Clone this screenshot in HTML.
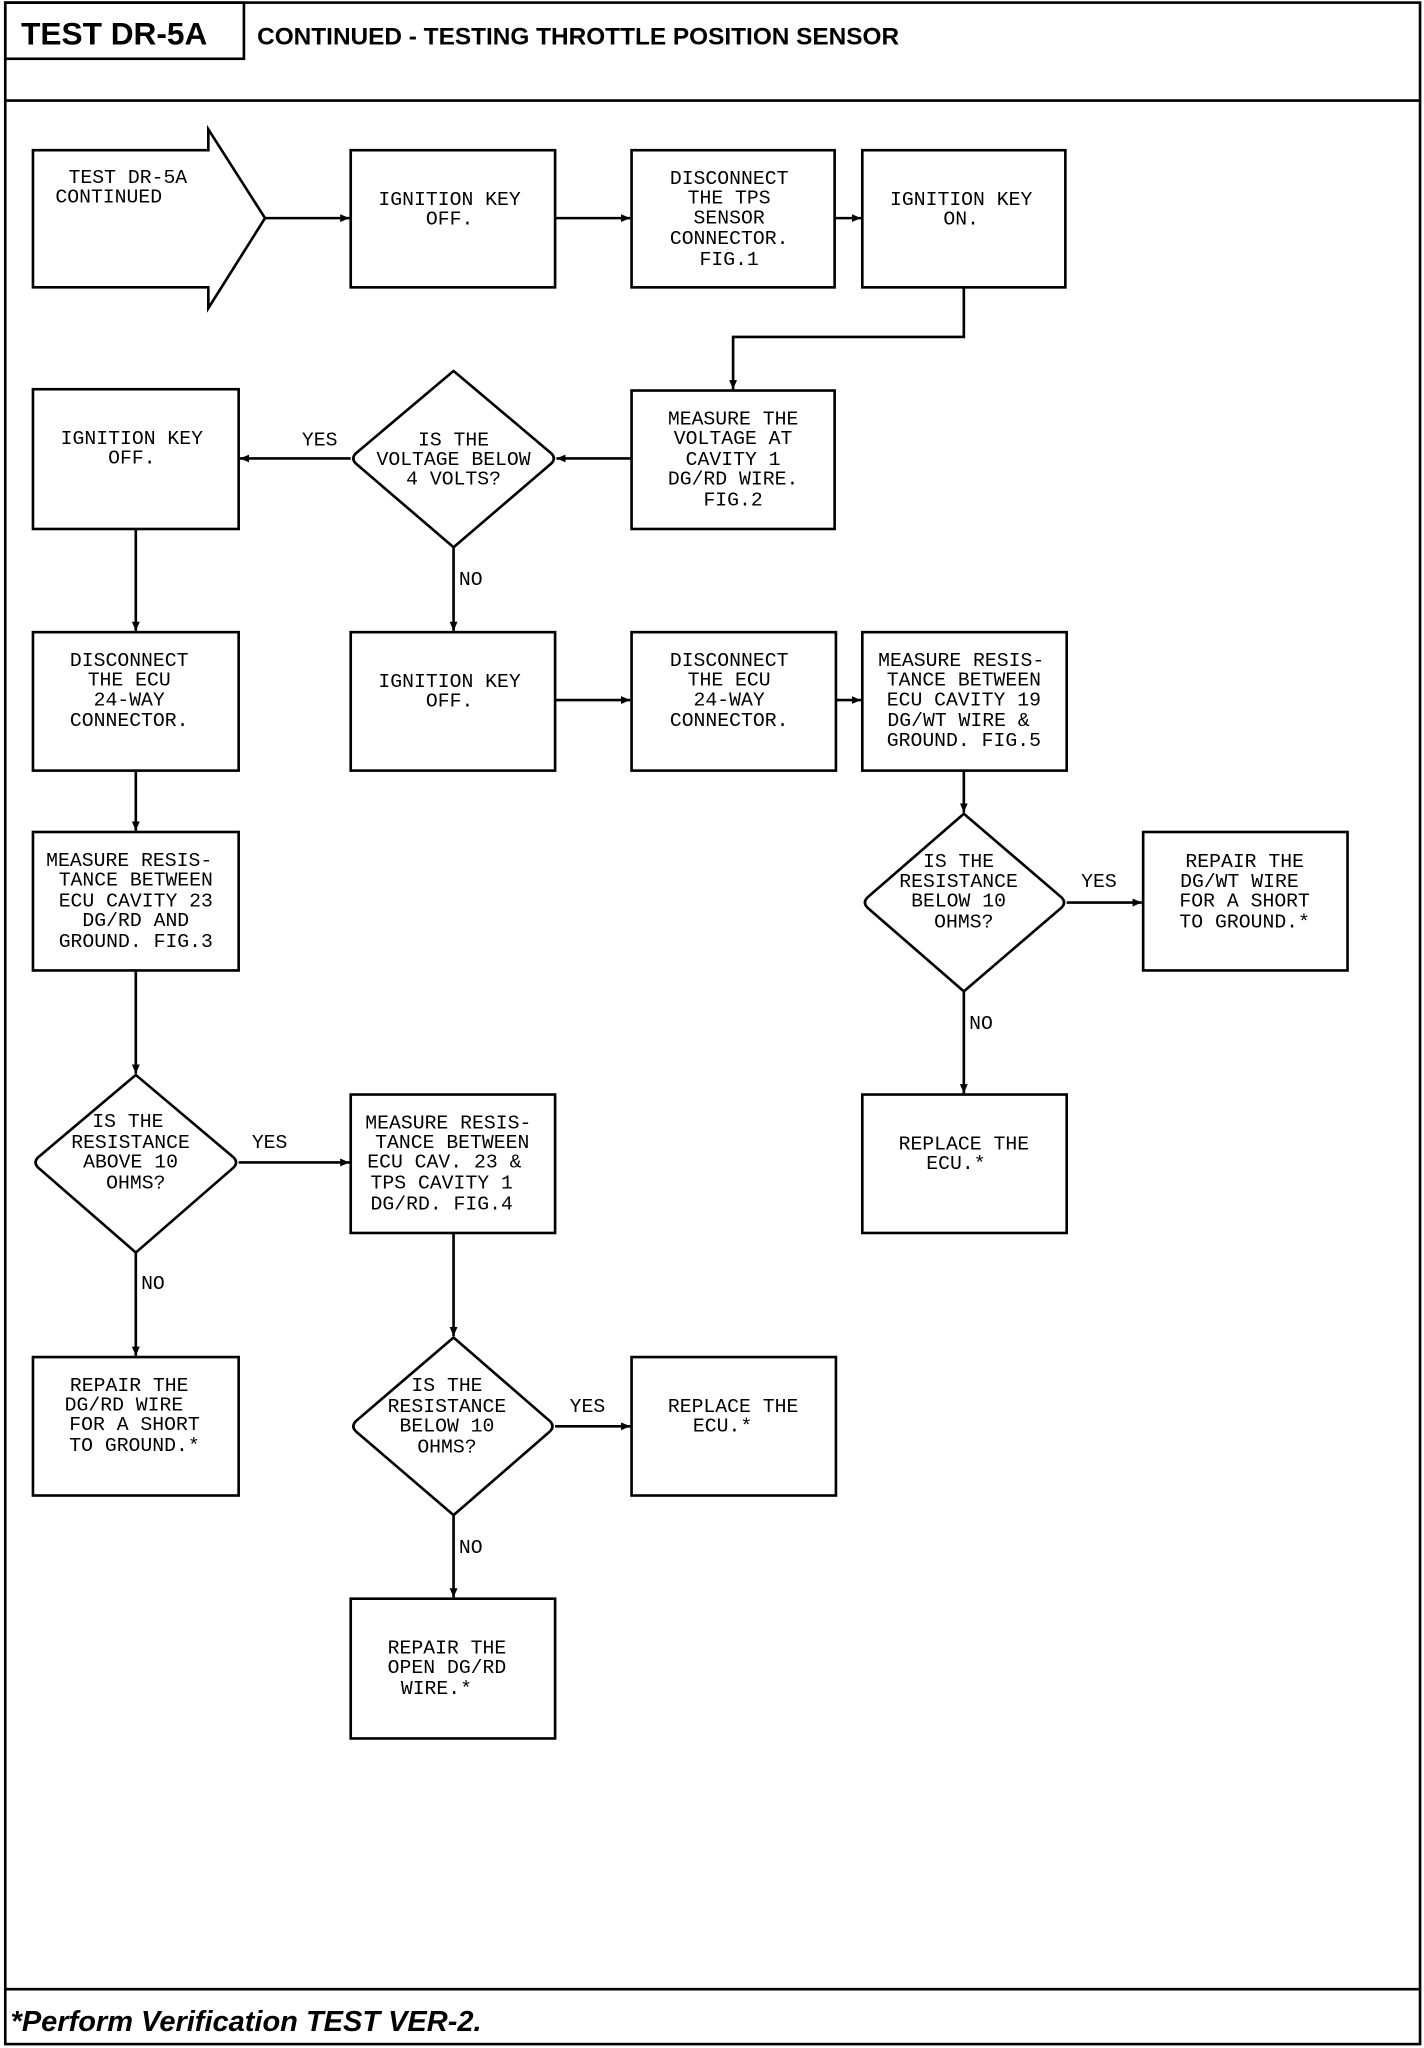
<!DOCTYPE html>
<html><head><meta charset="utf-8"><style>
html,body{margin:0;padding:0;background:#fff;}
svg{display:block;}
.t{font-family:"Liberation Mono",monospace;font-size:15px;fill:#000;text-anchor:middle;}
.l{font-family:"Liberation Mono",monospace;font-size:15px;fill:#000;}
</style></head><body>
<svg width="1424" height="2048" viewBox="0 0 1080 1568" preserveAspectRatio="none" xmlns="http://www.w3.org/2000/svg">
<defs><marker id="a" markerWidth="8" markerHeight="8" refX="7" refY="4" orient="auto" markerUnits="userSpaceOnUse"><path d="M0,1 L7,4 L0,7 Z" fill="#000"/></marker></defs>
<g fill="none" stroke="#000" stroke-width="2">
<rect x="4" y="2" width="1073" height="1563" />
<rect x="4" y="2" width="181" height="43" />
<line x1="4" y1="77" x2="1077" y2="77"/>
<line x1="4" y1="1523" x2="1077" y2="1523"/>
<polygon points="25,115 158,115 158,99 201,167 158,236 158,220 25,220"/>
<rect x="266" y="115" width="155" height="105"/>
<rect x="479" y="115" width="154" height="105"/>
<rect x="654" y="115" width="154" height="105"/>
<rect x="479" y="299" width="154" height="106"/>
<rect x="25" y="298" width="156" height="107"/>
<rect x="266" y="484" width="155" height="106"/>
<rect x="479" y="484" width="155" height="106"/>
<rect x="654" y="484" width="155" height="106"/>
<rect x="25" y="484" width="156" height="106"/>
<rect x="25" y="637" width="156" height="106"/>
<rect x="266" y="838" width="155" height="106"/>
<rect x="25" y="1039" width="156" height="106"/>
<rect x="479" y="1039" width="155" height="106"/>
<rect x="266" y="1224" width="155" height="107"/>
<rect x="867" y="637" width="155" height="106"/>
<rect x="654" y="838" width="155" height="106"/>
<g stroke-linejoin="round">
<path d="M344,284 L418,347 Q422,351 418,355 L344,419 L270,355 Q266,351 270,347 Z"/>
<path d="M103,823 L177,886 Q181,890 177,894 L103,959 L29,894 Q25,890 29,886 Z"/>
<path d="M344,1024 L417,1088 Q421,1092 417,1096 L344,1160 L270,1096 Q266,1092 270,1088 Z"/>
<path d="M731,623 L805,687 Q809,691 805,695 L731,759 L658,695 Q654,691 658,687 Z"/>
</g>
<g marker-end="url(#a)">
<line x1="201" y1="167" x2="265" y2="167"/>
<line x1="421" y1="167" x2="478" y2="167"/>
<line x1="633" y1="167" x2="653" y2="167"/>
<polyline points="731,220 731,258 556,258 556,298"/>
<line x1="479" y1="351" x2="422" y2="351"/>
<line x1="266" y1="351" x2="182" y2="351"/>
<line x1="344" y1="419" x2="344" y2="483"/>
<line x1="421" y1="536" x2="478" y2="536"/>
<line x1="634" y1="536" x2="653" y2="536"/>
<line x1="103" y1="405" x2="103" y2="483"/>
<line x1="103" y1="590" x2="103" y2="636"/>
<line x1="103" y1="743" x2="103" y2="822"/>
<line x1="181" y1="890" x2="265" y2="890"/>
<line x1="103" y1="959" x2="103" y2="1038"/>
<line x1="344" y1="944" x2="344" y2="1023"/>
<line x1="421" y1="1092" x2="478" y2="1092"/>
<line x1="344" y1="1160" x2="344" y2="1223"/>
<line x1="731" y1="590" x2="731" y2="622"/>
<line x1="809" y1="691" x2="866" y2="691"/>
<line x1="731" y1="759" x2="731" y2="837"/>
</g>
</g>
<text x="16" y="34" style="font-family:'Liberation Sans',sans-serif;font-weight:bold;font-size:24px">TEST DR-5A</text>
<text x="195" y="34" style="font-family:'Liberation Sans',sans-serif;font-weight:bold;font-size:18.5px">CONTINUED - TESTING THROTTLE POSITION SENSOR</text>
<text x="8" y="1555" style="font-family:'Liberation Sans',sans-serif;font-weight:bold;font-style:italic;font-size:22px">*Perform Verification TEST VER-2.</text>

<text class="l" x="52" y="140">TEST DR-5A</text>
<text class="l" x="42" y="155">CONTINUED</text>
<text class="t" x="341" y="157">IGNITION KEY</text><text class="t" x="341" y="172">OFF.</text>
<text class="t" x="553" y="141">DISCONNECT</text><text class="t" x="553" y="156">THE TPS</text><text class="t" x="553" y="171">SENSOR</text><text class="t" x="553" y="187">CONNECTOR.</text><text class="t" x="553" y="203">FIG.1</text>
<text class="t" x="729" y="157">IGNITION KEY</text><text class="t" x="729" y="172">ON.</text>
<text class="t" x="556" y="325">MEASURE THE</text><text class="t" x="556" y="340">VOLTAGE AT</text><text class="t" x="556" y="356">CAVITY 1</text><text class="t" x="556" y="371">DG/RD WIRE.</text><text class="t" x="556" y="387">FIG.2</text>
<text class="t" x="344" y="341">IS THE</text><text class="t" x="344" y="356">VOLTAGE BELOW</text><text class="t" x="344" y="371">4 VOLTS?</text>
<text class="l" x="229" y="341">YES</text>
<text class="t" x="100" y="340">IGNITION KEY</text><text class="t" x="100" y="355">OFF.</text>
<text class="l" x="348" y="448">NO</text>
<text class="t" x="98" y="510">DISCONNECT</text><text class="t" x="98" y="525">THE ECU</text><text class="t" x="98" y="540">24-WAY</text><text class="t" x="98" y="556">CONNECTOR.</text>
<text class="t" x="341" y="526">IGNITION KEY</text><text class="t" x="341" y="541">OFF.</text>
<text class="t" x="553" y="510">DISCONNECT</text><text class="t" x="553" y="525">THE ECU</text><text class="t" x="553" y="540">24-WAY</text><text class="t" x="553" y="556">CONNECTOR.</text>
<text class="t" x="729" y="510">MEASURE RESIS-</text><text class="t" x="731" y="525">TANCE BETWEEN</text><text class="t" x="731" y="540">ECU CAVITY 19</text><text class="t" x="727" y="556">DG/WT WIRE &amp;</text><text class="t" x="731" y="571">GROUND. FIG.5</text>
<text class="t" x="98" y="663">MEASURE RESIS-</text><text class="t" x="103" y="678">TANCE BETWEEN</text><text class="t" x="103" y="694">ECU CAVITY 23</text><text class="t" x="103" y="709">DG/RD AND</text><text class="t" x="103" y="725">GROUND. FIG.3</text>
<text class="t" x="727" y="664">IS THE</text><text class="t" x="727" y="679">RESISTANCE</text><text class="t" x="727" y="694">BELOW 10</text><text class="t" x="731" y="710">OHMS?</text>
<text class="l" x="820" y="679">YES</text>
<text class="t" x="944" y="664">REPAIR THE</text><text class="t" x="940" y="679">DG/WT WIRE</text><text class="t" x="944" y="694">FOR A SHORT</text><text class="t" x="944" y="710">TO GROUND.*</text>
<text class="l" x="735" y="788">NO</text>
<text class="t" x="97" y="863">IS THE</text><text class="t" x="99" y="879">RESISTANCE</text><text class="t" x="99" y="894">ABOVE 10</text><text class="t" x="103" y="910">OHMS?</text>
<text class="l" x="191" y="879">YES</text>
<text class="t" x="340" y="864">MEASURE RESIS-</text><text class="t" x="343" y="879">TANCE BETWEEN</text><text class="t" x="337" y="894">ECU CAV. 23 &amp;</text><text class="t" x="335" y="910">TPS CAVITY 1</text><text class="t" x="335" y="926">DG/RD. FIG.4</text>
<text class="l" x="107" y="987">NO</text>
<text class="t" x="98" y="1065">REPAIR THE</text><text class="t" x="94" y="1080">DG/RD WIRE</text><text class="t" x="102" y="1095">FOR A SHORT</text><text class="t" x="102" y="1111">TO GROUND.*</text>
<text class="t" x="339" y="1065">IS THE</text><text class="t" x="339" y="1081">RESISTANCE</text><text class="t" x="339" y="1096">BELOW 10</text><text class="t" x="339" y="1112">OHMS?</text>
<text class="l" x="432" y="1081">YES</text>
<text class="t" x="556" y="1081">REPLACE THE</text><text class="t" x="548" y="1096">ECU.*</text>
<text class="l" x="348" y="1189">NO</text>
<text class="t" x="339" y="1266">REPAIR THE</text><text class="t" x="339" y="1281">OPEN DG/RD</text><text class="t" x="331" y="1297">WIRE.*</text>
<text class="t" x="731" y="880">REPLACE THE</text><text class="t" x="725" y="895">ECU.*</text>
</svg>
</body></html>
